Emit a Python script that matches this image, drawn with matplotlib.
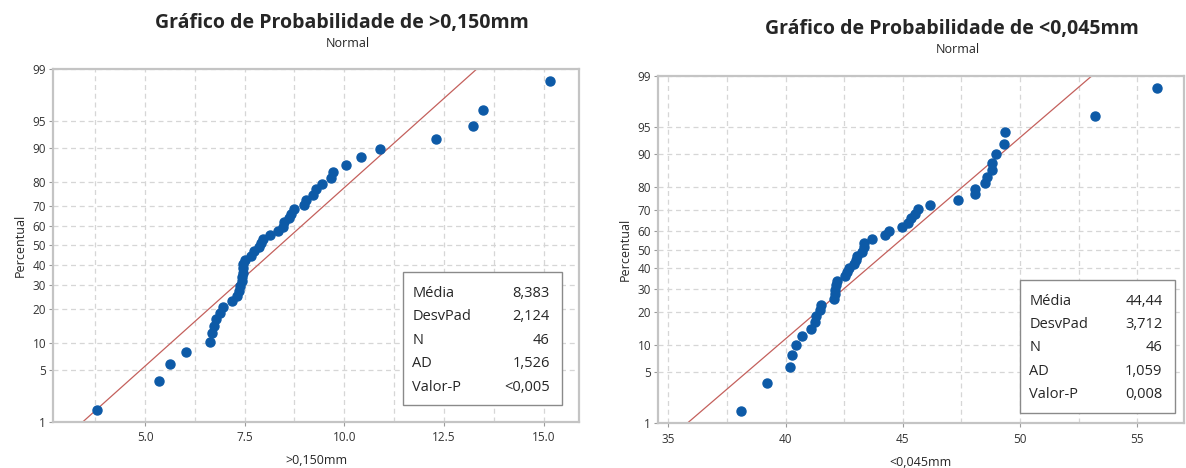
import matplotlib
matplotlib.use("Agg")
import matplotlib.pyplot as plt
from matplotlib.patches import Rectangle
from statistics import NormalDist
import numpy as np

plt.rcParams['font.family'] = ['Open Sans', 'DejaVu Sans']

# sample values (sorted) for each sieve fraction
coarse = [3.80, 5.35, 5.62, 6.02, 6.62, 6.69, 6.72, 6.79, 6.88, 6.96,
          7.19, 7.31, 7.36, 7.39, 7.43, 7.44, 7.45, 7.46, 7.47, 7.50,
          7.67, 7.73, 7.86, 7.90, 7.96, 8.13, 8.34, 8.45, 8.48, 8.61,
          8.67, 8.74, 8.98, 9.03, 9.21, 9.28, 9.45, 9.67, 9.72, 10.05,
          10.41, 10.89, 12.31, 13.24, 13.47, 15.15]
fine = [38.10, 39.22, 40.20, 40.28, 40.45, 40.71, 41.07, 41.25, 41.32, 41.46,
        41.51, 42.06, 42.10, 42.13, 42.16, 42.20, 42.53, 42.63, 42.73, 42.91,
        42.99, 43.06, 43.27, 43.33, 43.35, 43.70, 44.24, 44.43, 44.95, 45.23,
        45.37, 45.52, 45.66, 46.15, 47.36, 48.07, 48.07, 48.50, 48.60, 48.81,
        48.81, 49.00, 49.31, 49.38, 53.20, 55.84]

# summary statistics shown in the legend boxes
stats_coarse = [("Média", "8,383"), ("DesvPad", "2,124"), ("N", "46"),
                ("AD", "1,526"), ("Valor-P", "<0,005")]
stats_fine = [("Média", "44,44"), ("DesvPad", "3,712"), ("N", "46"),
              ("AD", "1,059"), ("Valor-P", "0,008")]
mean_coarse, sd_coarse = 8.383, 2.124
mean_fine, sd_fine = 44.44, 3.712

pct_ticks = [1, 5, 10, 20, 30, 40, 50, 60, 70, 80, 90, 95, 99]

nd = NormalDist()
TXT = '#262626'
BLUE = '#0d5aa7'
RED = '#c4605c'
GRID = '#d6d6d6'


def prob_plot(ax, data, mean, sd, stats, xlim, xmajor, xminor, xfmt,
              title, xlabel, tpos, box):
    n = len(data)
    z = [nd.inv_cdf((i + 1 - 0.3) / (n + 0.4)) for i in range(n)]
    zlo, zhi = nd.inv_cdf(0.01), nd.inv_cdf(0.99)

    ax.set_xlim(*xlim)
    ax.set_ylim(zlo, zhi)
    ax.set_yticks([nd.inv_cdf(p / 100) for p in pct_ticks])
    ax.set_yticklabels([str(p) for p in pct_ticks])
    ax.set_xticks(xmajor)
    ax.set_xticklabels([xfmt.format(v) for v in xmajor])
    ax.set_xticks(xminor, minor=True)

    ax.grid(True, which='both', axis='x', color=GRID, ls=(0, (4, 3)), lw=0.9)
    ax.grid(True, which='major', axis='y', color=GRID, ls=(0, (4, 3)), lw=0.9)
    ax.set_axisbelow(True)
    ax.tick_params(axis='both', which='both', length=3, width=0.8,
                   color='#9a9a9a', labelsize=8.5, labelcolor='#333333', pad=2)
    ax.tick_params(axis='x', which='major', pad=4)
    ax.tick_params(axis='x', which='minor', length=0)
    for s in ax.spines.values():
        s.set_color('#c4c4c4')
        s.set_linewidth(1.6)

    zz = np.array([zlo, zhi])
    ax.plot(mean + sd * zz, zz, color=RED, lw=0.9, zorder=2)
    ax.plot(data, z, 'o', color=BLUE, ms=6.5, mec=BLUE, zorder=3)

    ax.set_ylabel("Percentual", fontsize=9, color=TXT, labelpad=4)
    ax.set_xlabel(xlabel, fontsize=9, color=TXT, labelpad=7)

    fig = ax.figure
    fig.text(tpos[0], tpos[1], title, ha='center', va='center',
             fontsize=14, fontweight='bold', color=TXT)
    fig.text(tpos[0] + 0.005, tpos[1] - 0.043, "Normal", ha='center',
             va='center', fontsize=9, color=TXT)

    # statistics box: row offsets in pixels from the top of a 133 px box
    x0, y0, x1, y1 = box
    ax.add_patch(Rectangle((x0, y0), x1 - x0, y1 - y0, transform=ax.transAxes,
                           facecolor='white', edgecolor='#8a8a8a', lw=1.0,
                           zorder=5))
    h = y1 - y0
    for k, (lab, val) in enumerate(stats):
        yy = y1 - (21 + k * 23.5) / 133 * h
        ax.text(x0 + 0.018, yy, lab, transform=ax.transAxes, fontsize=10.5,
                color=TXT, va='center', ha='left', zorder=6)
        ax.text(x1 - 0.024, yy, val, transform=ax.transAxes, fontsize=10.5,
                color=TXT, va='center', ha='right', zorder=6)


fig = plt.figure(figsize=(11.86, 4.68), dpi=100)
ax1 = fig.add_axes([0.0447, 0.0989, 0.4435, 0.7537])
ax2 = fig.add_axes([0.5548, 0.0955, 0.4435, 0.7427])

prob_plot(ax1, coarse, mean_coarse, sd_coarse, stats_coarse,
          (2.69, 15.89), [5.0, 7.5, 10.0, 12.5, 15.0],
          [3.75, 6.25, 8.75, 11.25, 13.75], "{:.1f}",
          "Gráfico de Probabilidade de >0,150mm", ">0,150mm",
          (0.288, 0.951), (0.665, 0.047, 0.968, 0.424))
prob_plot(ax2, fine, mean_fine, sd_fine, stats_fine,
          (34.56, 57.0), [35, 40, 45, 50, 55],
          [37.5, 42.5, 47.5, 52.5], "{:.0f}",
          "Gráfico de Probabilidade de <0,045mm", "<0,045mm",
          (0.803, 0.938), (0.688, 0.03, 0.983, 0.412))

fig.savefig("out.png", dpi=100)
